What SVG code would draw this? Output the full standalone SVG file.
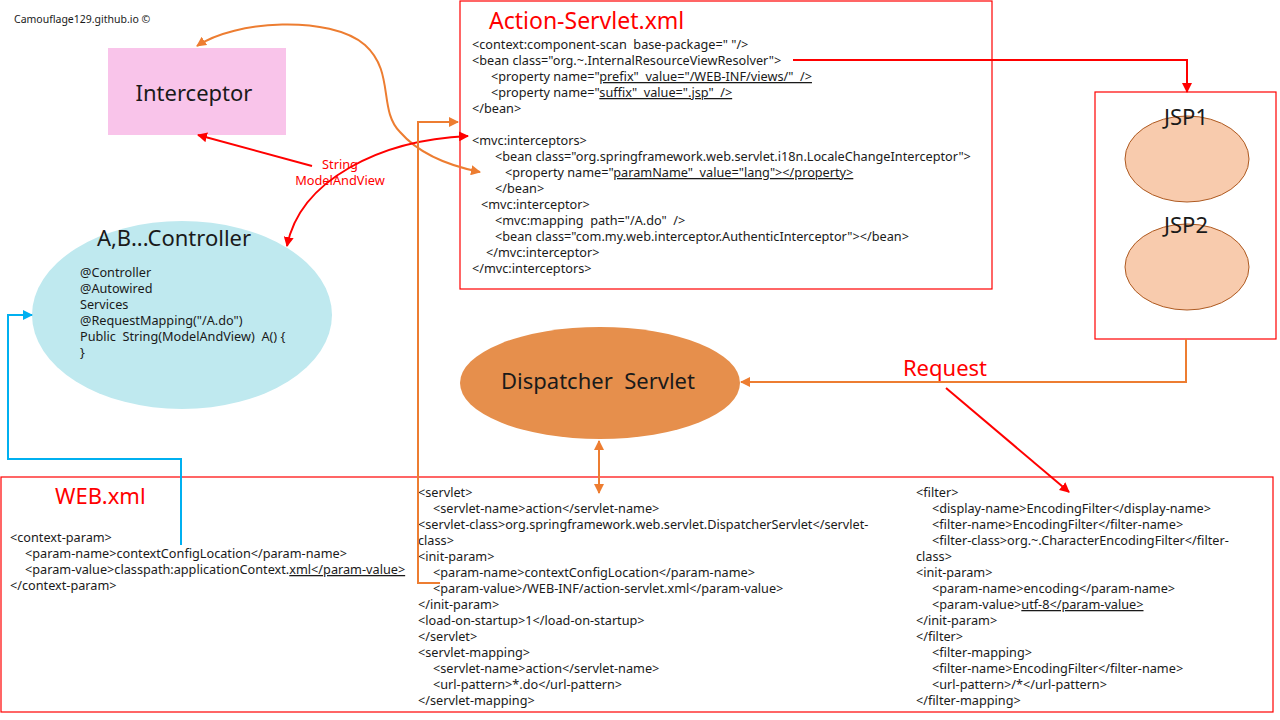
<svg xmlns="http://www.w3.org/2000/svg" width="1280" height="720" viewBox="0 0 1280 720">
<defs>
<style>
text{font-family:"Noto Sans","Open Sans","DejaVu Sans",sans-serif;fill:#1a1a1a;white-space:pre}
.code{font-size:12.7px}
.big{font-size:22px}
.title{font-size:23px;fill:#ff0000}
.u{text-decoration:underline}
.red{stroke:#ff0000;stroke-width:2;fill:none}
.org{stroke:#ED7D31;stroke-width:2;fill:none}
.blu{stroke:#00B0F0;stroke-width:2;fill:none}
.box{fill:#fff;stroke:#ff0000;stroke-width:1.2}
</style>
<marker id="ar" viewBox="0 0 10 10" refX="9" refY="5" markerWidth="5" markerHeight="5" orient="auto-start-reverse" markerUnits="strokeWidth"><path d="M0,0L10,5L0,10z" fill="#ff0000"/></marker>
<marker id="ao" viewBox="0 0 10 10" refX="9" refY="5" markerWidth="5" markerHeight="5" orient="auto-start-reverse" markerUnits="strokeWidth"><path d="M0,0L10,5L0,10z" fill="#ED7D31"/></marker>
<marker id="ab" viewBox="0 0 10 10" refX="9" refY="5" markerWidth="5" markerHeight="5" orient="auto-start-reverse" markerUnits="strokeWidth"><path d="M0,0L10,5L0,10z" fill="#00B0F0"/></marker>
</defs>
<rect width="1280" height="720" fill="#fff"/>
<text x="14" y="23" style="font-size:10.5px">Camouflage129.github.io ©</text>

<g id="web-xml">
<rect class="box" x="1" y="477" width="1272" height="235"/>
<text class="title" x="55" y="504" style="font-size:22px">WEB.xml</text>
<g class="code">
<text x="10" y="542">&lt;context-param&gt;</text>
<text x="25" y="558">&lt;param-name&gt;contextConfigLocation&lt;/param-name&gt;</text>
<text x="25" y="574">&lt;param-value&gt;classpath:applicationContext.<tspan class="u">xml&lt;/param-value&gt;</tspan></text>
<text x="10" y="590">&lt;/context-param&gt;</text>
</g>
<g class="code">
<text x="418" y="497">&lt;servlet&gt;</text>
<text x="433" y="513">&lt;servlet-name&gt;action&lt;/servlet-name&gt;</text>
<text x="418" y="529">&lt;servlet-class&gt;org.springframework.web.servlet.DispatcherServlet&lt;/servlet-</text>
<text x="418" y="545">class&gt;</text>
<text x="418" y="561">&lt;init-param&gt;</text>
<text x="433" y="577">&lt;param-name&gt;contextConfigLocation&lt;/param-name&gt;</text>
<text x="433" y="593">&lt;param-value&gt;/WEB-INF/action-servlet.xml&lt;/param-value&gt;</text>
<text x="418" y="609">&lt;/init-param&gt;</text>
<text x="418" y="625">&lt;load-on-startup&gt;1&lt;/load-on-startup&gt;</text>
<text x="418" y="641">&lt;/servlet&gt;</text>
<text x="418" y="657">&lt;servlet-mapping&gt;</text>
<text x="433" y="673">&lt;servlet-name&gt;action&lt;/servlet-name&gt;</text>
<text x="433" y="689">&lt;url-pattern&gt;*.do&lt;/url-pattern&gt;</text>
<text x="418" y="705">&lt;/servlet-mapping&gt;</text>
</g>
<g class="code">
<text x="916" y="497">&lt;filter&gt;</text>
<text x="932" y="513">&lt;display-name&gt;EncodingFilter&lt;/display-name&gt;</text>
<text x="932" y="529">&lt;filter-name&gt;EncodingFilter&lt;/filter-name&gt;</text>
<text x="932" y="545">&lt;filter-class&gt;org.~.CharacterEncodingFilter&lt;/filter-</text>
<text x="916" y="561">class&gt;</text>
<text x="916" y="577">&lt;init-param&gt;</text>
<text x="932" y="593">&lt;param-name&gt;encoding&lt;/param-name&gt;</text>
<text x="932" y="609">&lt;param-value&gt;<tspan class="u">utf-8&lt;/param-value&gt;</tspan></text>
<text x="916" y="625">&lt;/init-param&gt;</text>
<text x="916" y="641">&lt;/filter&gt;</text>
<text x="932" y="657">&lt;filter-mapping&gt;</text>
<text x="932" y="673">&lt;filter-name&gt;EncodingFilter&lt;/filter-name&gt;</text>
<text x="932" y="689">&lt;url-pattern&gt;/*&lt;/url-pattern&gt;</text>
<text x="916" y="705">&lt;/filter-mapping&gt;</text>
</g>
</g>

<g id="action-servlet">
<rect class="box" x="460" y="1" width="532" height="288"/>
<text class="title" x="489" y="29">Action-Servlet.xml</text>
<g class="code">
<text x="472" y="49">&lt;context:component-scan  base-package=" "/&gt;</text>
<text x="472" y="65">&lt;bean class="org.~.InternalResourceViewResolver"&gt;</text>
<text x="491" y="81">&lt;property name="<tspan class="u">prefix"  value="/WEB-INF/views/"  /&gt;</tspan></text>
<text x="491" y="97">&lt;property name="<tspan class="u">suffix"  value=".jsp"  /&gt;</tspan></text>
<text x="472" y="113">&lt;/bean&gt;</text>
<text x="472" y="145">&lt;mvc:interceptors&gt;</text>
<text x="495" y="161">&lt;bean class="org.springframework.web.servlet.i18n.LocaleChangeInterceptor"&gt;</text>
<text x="505" y="177">&lt;property name="<tspan class="u">paramName"  value="lang"&gt;&lt;/property&gt;</tspan></text>
<text x="495" y="193">&lt;/bean&gt;</text>
<text x="481" y="209">&lt;mvc:interceptor&gt;</text>
<text x="495" y="225">&lt;mvc:mapping  path="/A.do"  /&gt;</text>
<text x="495" y="241">&lt;bean class="com.my.web.interceptor.AuthenticInterceptor"&gt;&lt;/bean&gt;</text>
<text x="486" y="257">&lt;/mvc:interceptor&gt;</text>
<text x="472" y="273">&lt;/mvc:interceptors&gt;</text>
</g>
</g>

<g id="interceptor">
<rect x="108" y="48" width="178" height="87" fill="#F9C4EA"/>
<text class="big" x="194" y="101" text-anchor="middle">Interceptor</text>
</g>

<g id="controller">
<ellipse cx="182" cy="315" rx="150" ry="94" fill="#BFE9EF"/>
<text class="big" x="174" y="246" text-anchor="middle">A,B...Controller</text>
<g class="code">
<text x="80" y="277">@Controller</text>
<text x="80" y="293">@Autowired</text>
<text x="80" y="309">Services</text>
<text x="80" y="325">@RequestMapping("/A.do")</text>
<text x="80" y="341">Public  String(ModelAndView)  A() {</text>
<text x="80" y="357">}</text>
</g>
</g>

<g id="dispatcher">
<ellipse cx="600" cy="383" rx="140" ry="56" fill="#E68F4C"/>
<text class="big" x="598" y="389" text-anchor="middle">Dispatcher  Servlet</text>
</g>

<g id="jsp">
<rect class="box" x="1095" y="92" width="181" height="247"/>
<ellipse cx="1187" cy="159" rx="62" ry="43" fill="#F8CBAD" stroke="#AE5A21" stroke-width="1"/>
<ellipse cx="1187" cy="267" rx="62" ry="43" fill="#F8CBAD" stroke="#AE5A21" stroke-width="1"/>
<text class="big" x="1186" y="125" text-anchor="middle">JSP1</text>
<text class="big" x="1186" y="233" text-anchor="middle">JSP2</text>
</g>

<g id="connectors">
<path class="org" d="M197,46 C235,20 330,15 365,45 C395,72 378,110 400,132 C420,155 450,166 480,172" marker-start="url(#ao)" marker-end="url(#ao)"/>
<path class="red" d="M312,166 L198,135" marker-end="url(#ar)"/>
<path class="red" d="M468,136 C380,140 300,180 287,246" marker-start="url(#ar)" marker-end="url(#ar)"/>
<path class="org" d="M440,583 H418 V122 H458" marker-end="url(#ao)"/>
<path class="red" d="M793,60 H1187 V92" marker-end="url(#ar)"/>
<path class="org" d="M1186,339 V382 H741" marker-end="url(#ao)"/>
<path class="red" d="M946,388 L1069,492" marker-end="url(#ar)"/>
<path class="org" d="M599,441 V493" marker-start="url(#ao)" marker-end="url(#ao)"/>
<path class="blu" d="M181,545 V459 H8 V315 H32" marker-end="url(#ab)"/>
<text x="340" y="169" text-anchor="middle" style="font-size:12.8px;fill:#ff0000">String</text>
<text x="340" y="185" text-anchor="middle" style="font-size:12.8px;fill:#ff0000">ModelAndView</text>
<text x="945" y="376" text-anchor="middle" style="font-size:22px;fill:#ff0000">Request</text>
</g>
</svg>
